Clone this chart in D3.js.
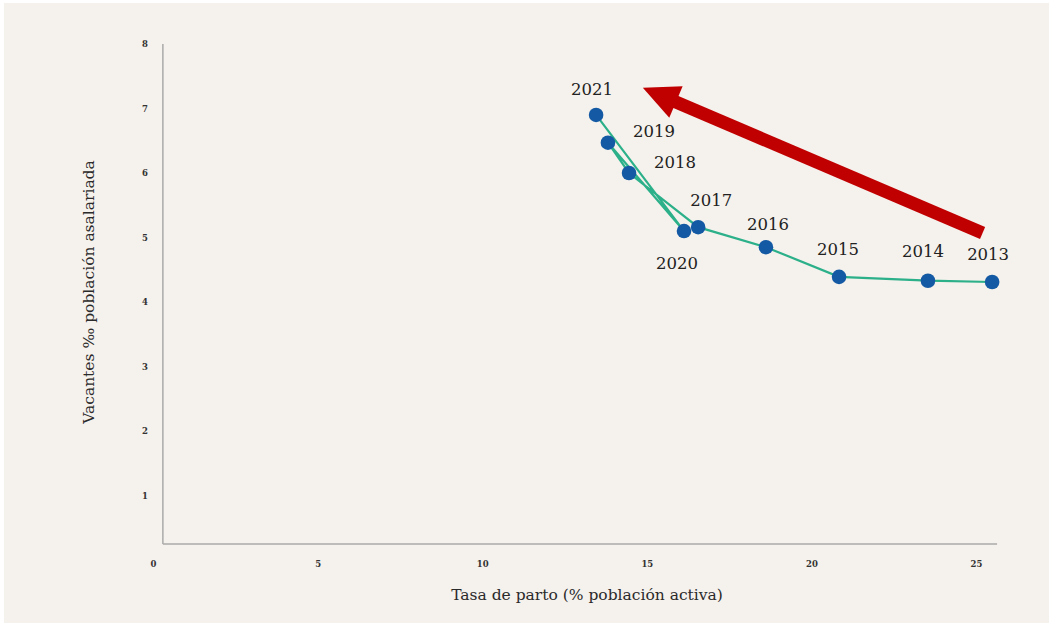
<!DOCTYPE html>
<html>
<head>
    <meta charset="utf-8">
    <style>
        body { margin: 0; background: #ffffff; }
        svg { display: block; }
        .tick text { font-family: 'DejaVu Serif', serif; font-size: 8.5px; font-weight: bold; fill: #333; }
        .axis-title { font-family: 'DejaVu Serif', serif; font-size: 15.5px; fill: #2a2a2a; }
        .year-label { font-family: 'DejaVu Serif', serif; font-size: 16.5px; fill: #222; }
    </style>
</head>
<body>
<svg width="1053" height="626"></svg>

<script src="https://d3js.org/d3.v7.min.js"></script>
<script>
    // data
    let years = [2013, 2014, 2015, 2016, 2017, 2018, 2019, 2020, 2021]
    let paro = [25.49, 23.54, 20.84, 18.62, 16.56, 14.46, 13.82, 16.13, 13.46]
    let vacantes = [4.31, 4.33, 4.39, 4.85, 5.16, 6.00, 6.47, 5.10, 6.90]
    let xTicks = [0, 5, 10, 15, 20, 25]
    let yTicks = [1, 2, 3, 4, 5, 6, 7, 8]
    // arrow annotation, in data units: [x, y] tail -> head
    let arrowFrom = [25.2, 5.07]
    let arrowTo = [14.88, 7.32]

    // label placement around each point (pixels), kept apart from the data
    let labelOffsets = {
        2013: [-4, -22], 2014: [-5, -24], 2015: [-1, -22], 2016: [2, -17],
        2017: [13, -21], 2018: [46, -5], 2019: [46, -6], 2020: [-7, 38], 2021: [-4, -20]
    }

    let data = years.map((y, i) => ({ year: y, x: paro[i], y: vacantes[i] }))

    let svg = d3.select("svg")

    svg.append("rect")
        .attr("x", 4).attr("y", 3)
        .attr("width", 1045).attr("height", 620)
        .style("fill", "#f5f1ec")

    let x = d3.scaleLinear().domain([0, 25]).range([153, 976])
    let y = d3.scaleLinear().domain([0, 8]).range([560, 44])

    // axis frame (plot area runs a little past the label positions)
    let x0 = x(0.3), x1 = x(25.64), yBottom = y(0.25), yTop = y(8)

    svg.append("line")
        .attr("x1", x0).attr("x2", x0).attr("y1", yTop).attr("y2", yBottom)
        .style("stroke", "#aaa").style("stroke-width", 1.5)
    svg.append("line")
        .attr("x1", x0).attr("x2", x1).attr("y1", yBottom).attr("y2", yBottom)
        .style("stroke", "#aaa").style("stroke-width", 1.5)

    let xAxis = svg.append("g")
        .attr("transform", "translate(0,561)")
        .call(d3.axisBottom(x).tickValues(xTicks).tickSize(0).tickPadding(0))
    xAxis.select(".domain").remove()

    let yAxis = svg.append("g")
        .attr("transform", "translate(145,0)")
        .call(d3.axisLeft(y).tickValues(yTicks).tickSize(0).tickPadding(0))
    yAxis.select(".domain").remove()
    yAxis.selectAll("text").attr("text-anchor", "middle").attr("dy", "0.32em")

    svg.append("text")
        .attr("class", "axis-title")
        .attr("x", 587).attr("y", 600)
        .attr("text-anchor", "middle")
        .text("Tasa de parto (% población activa)")

    svg.append("text")
        .attr("class", "axis-title")
        .attr("transform", "translate(94,292) rotate(-90)")
        .attr("text-anchor", "middle")
        .text("Vacantes ‰ población asalariada")

    // arrow
    let ax1 = x(arrowFrom[0]), ay1 = y(arrowFrom[1])
    let ax2 = x(arrowTo[0]), ay2 = y(arrowTo[1])
    let ang = Math.atan2(ay2 - ay1, ax2 - ax1)
    let headLen = 36, headW = 17, shaftW = 13
    let bx = ax2 - headLen * Math.cos(ang), by = ay2 - headLen * Math.sin(ang)
    let px = -Math.sin(ang), py = Math.cos(ang)

    svg.append("line")
        .attr("x1", ax1).attr("y1", ay1).attr("x2", bx + 2 * Math.cos(ang)).attr("y2", by + 2 * Math.sin(ang))
        .style("stroke", "#c00000").style("stroke-width", shaftW)
    svg.append("path")
        .attr("d", "M" + ax2 + "," + ay2 +
            "L" + (bx + px * headW) + "," + (by + py * headW) +
            "L" + (bx - px * headW) + "," + (by - py * headW) + "Z")
        .style("fill", "#c00000")

    let line = d3.line().x(d => x(d.x)).y(d => y(d.y))

    svg.append("path")
        .datum(data)
        .attr("d", line)
        .style("fill", "none")
        .style("stroke", "#2bb08a")
        .style("stroke-width", 2.2)

    svg.append("g")
        .selectAll("circle")
        .data(data)
        .join("circle")
        .attr("cx", d => x(d.x))
        .attr("cy", d => y(d.y))
        .attr("r", 7.3)
        .style("fill", "#1459a3")

    svg.append("g")
        .selectAll("text")
        .data(data)
        .join("text")
        .attr("class", "year-label")
        .attr("x", d => x(d.x) + labelOffsets[d.year][0])
        .attr("y", d => y(d.y) + labelOffsets[d.year][1])
        .attr("text-anchor", "middle")
        .text(d => d.year)
</script>
</body>
</html>
